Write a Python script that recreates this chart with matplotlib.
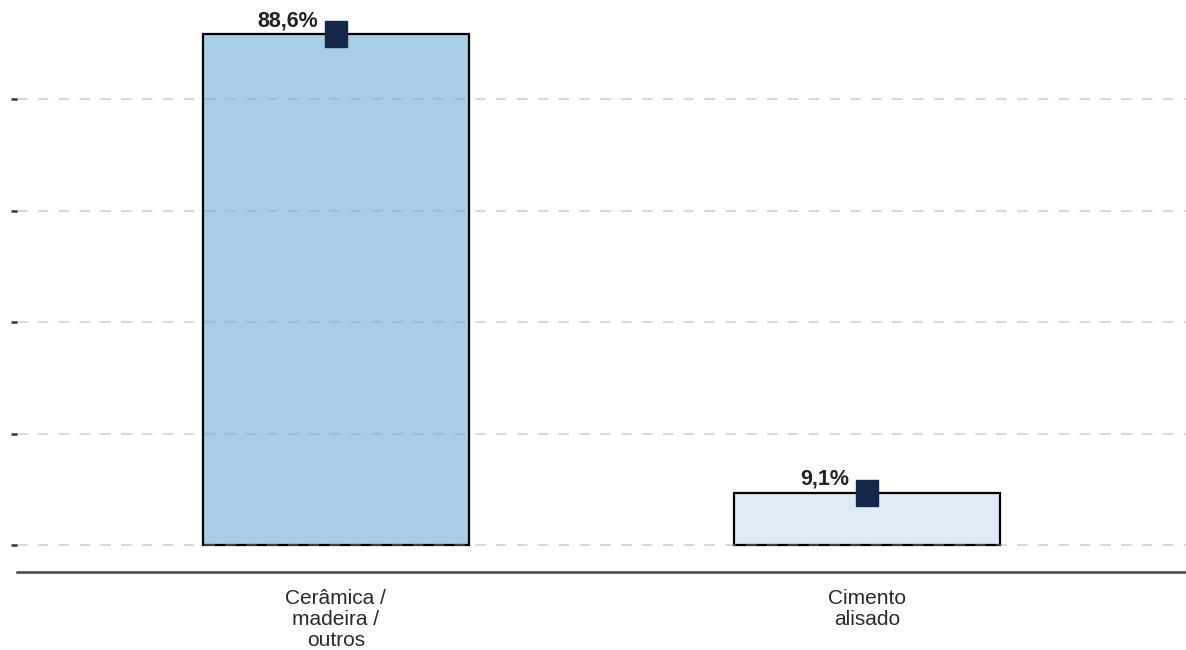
import matplotlib
matplotlib.use("Agg")
import matplotlib.pyplot as plt

categories = ["Cerâmica /\nmadeira /\noutros", "Cimento\nalisado"]
values = [88.6, 9.1]
value_labels = ["88,6%", "9,1%"]
bar_colors = ["#a6cde3", "#deebf7"]
grid_ticks = [0, 19.3, 38.6, 57.9, 77.3]

plt.rcParams['font.family'] = ['Liberation Sans', 'DejaVu Sans']

fig = plt.figure(figsize=(11.86, 6.5), dpi=100)
ax = fig.add_axes([17 / 1186, (650 - 572) / 650, 1 - 17 / 1186, 572 / 650])

x = list(range(len(categories)))
ax.bar(x, values, width=0.5, color=bar_colors, edgecolor="black", linewidth=1.6, zorder=2)
rect_marker = [(-0.88, -1), (0.88, -1), (0.88, 1), (-0.88, 1), (-0.88, -1)]
ax.plot(x, values, linestyle="none", marker=rect_marker, markersize=18.5,
        color="#15284b", markeredgecolor="#15284b", zorder=5)

for xi, v, lab in zip(x, values, value_labels):
    ax.annotate(lab, xy=(xi, v), xytext=(-13, 2), textcoords="offset points",
                ha="right", va="bottom", fontsize=15.5, fontweight="bold", color="#222222", zorder=6)

ax.set_xlim(-0.6, 1.6)
ax.set_ylim(-4.68, 94.5)
ax.set_yticks(grid_ticks)
ax.set_yticklabels([])
ax.set_axisbelow(False)
ax.yaxis.grid(True, linestyle=(0, (5, 5)), color="#a0a0a0", alpha=0.4, linewidth=1.5)
ax.tick_params(axis="y", length=4, width=1.8, color="#333333", direction="out")

ax.set_xticks(x)
ax.set_xticklabels(categories, fontsize=15, color="#2a2a2a", linespacing=1.13)
ax.tick_params(axis="x", length=0, pad=12)

for s in ["top", "right", "left"]:
    ax.spines[s].set_visible(False)
ax.spines["bottom"].set_color("#4a4540")
ax.spines["bottom"].set_linewidth(1.8)

fig.savefig("out.png", dpi=100)
